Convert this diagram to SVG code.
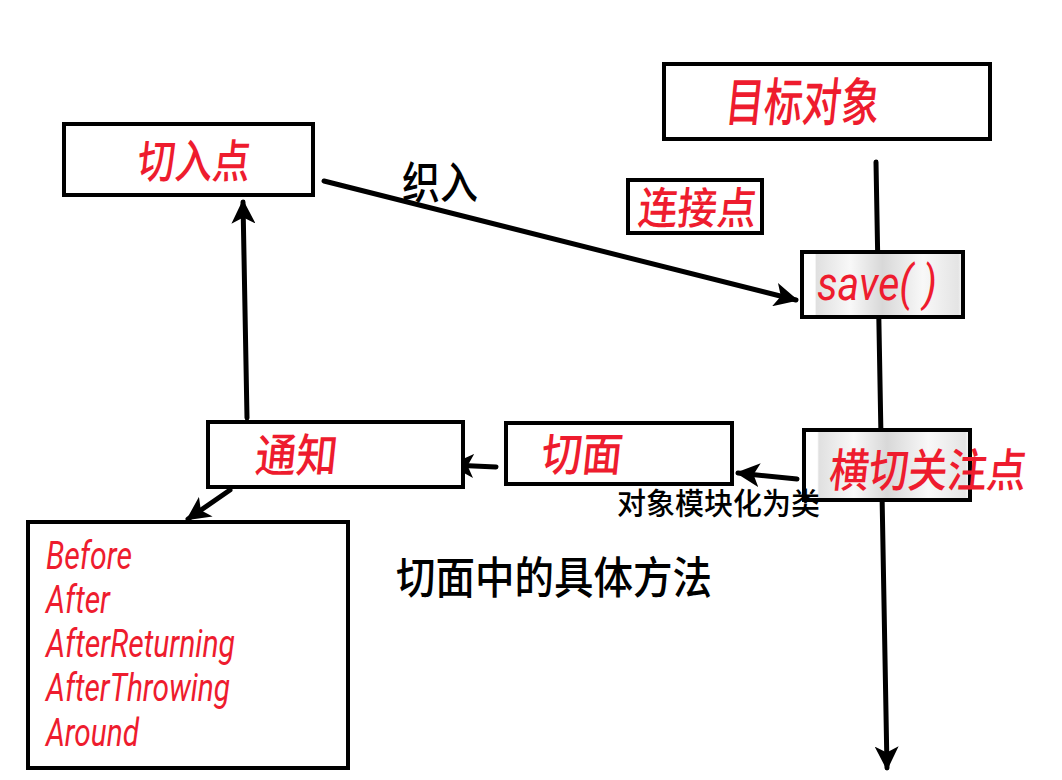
<svg xmlns="http://www.w3.org/2000/svg" width="1062" height="780" viewBox="0 0 1062 780">
<style>
.box{fill:#fff;stroke:#000;stroke-width:4}
.gbox{fill:url(#silver);stroke:#000;stroke-width:4}
.red{fill:#ee1c2e;font-family:"Noto Sans CJK SC","Noto Sans",sans-serif;font-weight:500}
.lat{fill:#ee1c2e;font-family:Roboto,"Noto Sans",sans-serif;font-style:italic}
.blk{fill:#000;font-family:"Noto Sans CJK SC",sans-serif;font-weight:500}
.con{stroke:#000;stroke-width:5;stroke-linecap:round;fill:none}
</style>
<defs>
<linearGradient id="silver" x1="0" y1="0" x2="1" y2="0">
<stop offset="0" stop-color="#fff"/>
<stop offset="0.08" stop-color="#fff"/>
<stop offset="0.09" stop-color="#e0e0e0"/>
<stop offset="0.3" stop-color="#f8f8f8"/>
<stop offset="0.5" stop-color="#d8d8d8"/>
<stop offset="0.75" stop-color="#f8f8f8"/>
<stop offset="0.97" stop-color="#e4e4e4"/>
<stop offset="1" stop-color="#fff"/>
</linearGradient>
<marker id="ah" viewBox="0 0 10 10" refX="9" refY="5" markerWidth="4.8" markerHeight="4.8" markerUnits="strokeWidth" orient="auto">
<path d="M0,0 L10,5 L0,10 L2.5,5 z" fill="#000"/>
</marker>
</defs>
<rect width="1062" height="780" fill="#fff"/>
<g id="connectors">
<line class="con" x1="876" y1="162" x2="887" y2="768" marker-end="url(#ah)"/>
<line class="con" x1="324" y1="181" x2="796" y2="300" marker-end="url(#ah)"/>
<line class="con" x1="797" y1="479" x2="738" y2="473" marker-end="url(#ah)"/>
<line class="con" x1="496" y1="467" x2="452" y2="465" marker-end="url(#ah)"/>
<line class="con" x1="247" y1="418" x2="243" y2="202" marker-end="url(#ah)"/>
<line class="con" x1="230" y1="490" x2="188" y2="519" marker-end="url(#ah)"/>
</g>
<g id="target">
<rect class="box" x="664" y="64" width="326" height="75"/>
<text class="red" transform="translate(724,121) skewX(-6)" font-size="52" textLength="154" lengthAdjust="spacingAndGlyphs">目标对象</text>
</g>
<g id="joinpoint">
<rect class="box" x="628" y="180" width="134" height="53"/>
<text class="red" transform="translate(637,224) skewX(-6)" font-size="44" textLength="118" lengthAdjust="spacingAndGlyphs">连接点</text>
</g>
<g id="save">
<rect class="gbox" x="802" y="252" width="161" height="65"/>
<text class="lat" x="817" y="300" font-size="48" textLength="120" lengthAdjust="spacingAndGlyphs">save( )</text>
</g>
<g id="pointcut">
<rect class="box" x="64" y="124" width="249" height="71"/>
<text class="red" transform="translate(136,178) skewX(-6)" font-size="46" textLength="113" lengthAdjust="spacingAndGlyphs">切入点</text>
</g>
<g id="weave">
<text class="blk" x="402" y="199" font-size="44" textLength="76" lengthAdjust="spacingAndGlyphs">织入</text>
</g>
<g id="advice">
<rect class="box" x="208" y="422" width="255" height="65"/>
<text class="red" transform="translate(254,472) skewX(-6)" font-size="46" textLength="82" lengthAdjust="spacingAndGlyphs">通知</text>
</g>
<g id="aspect">
<rect class="box" x="506" y="423" width="226" height="61"/>
<text class="red" transform="translate(540,471) skewX(-6)" font-size="46" textLength="81" lengthAdjust="spacingAndGlyphs">切面</text>
</g>
<g id="crosscut">
<rect class="gbox" x="804" y="430" width="166" height="70"/>
<text class="red" transform="translate(828,487) skewX(-6)" font-size="46" textLength="197" lengthAdjust="spacingAndGlyphs">横切关注点</text>
</g>
<g id="modular">
<text class="blk" x="617" y="514" font-size="30" textLength="203" lengthAdjust="spacingAndGlyphs">对象模块化为类</text>
</g>
<g id="methods">
<rect class="box" x="28" y="522" width="320" height="246"/>
<text class="lat" x="46" y="569" font-size="38" textLength="86" lengthAdjust="spacingAndGlyphs">Before</text>
<text class="lat" x="46" y="613" font-size="38" textLength="64" lengthAdjust="spacingAndGlyphs">After</text>
<text class="lat" x="46" y="657" font-size="38" textLength="189" lengthAdjust="spacingAndGlyphs">AfterReturning</text>
<text class="lat" x="46" y="701" font-size="38" textLength="184" lengthAdjust="spacingAndGlyphs">AfterThrowing</text>
<text class="lat" x="46" y="746" font-size="38" textLength="93" lengthAdjust="spacingAndGlyphs">Around</text>
</g>
<g id="methods-label">
<text class="blk" x="396" y="594" font-size="44" textLength="316" lengthAdjust="spacingAndGlyphs">切面中的具体方法</text>
</g>
</svg>
